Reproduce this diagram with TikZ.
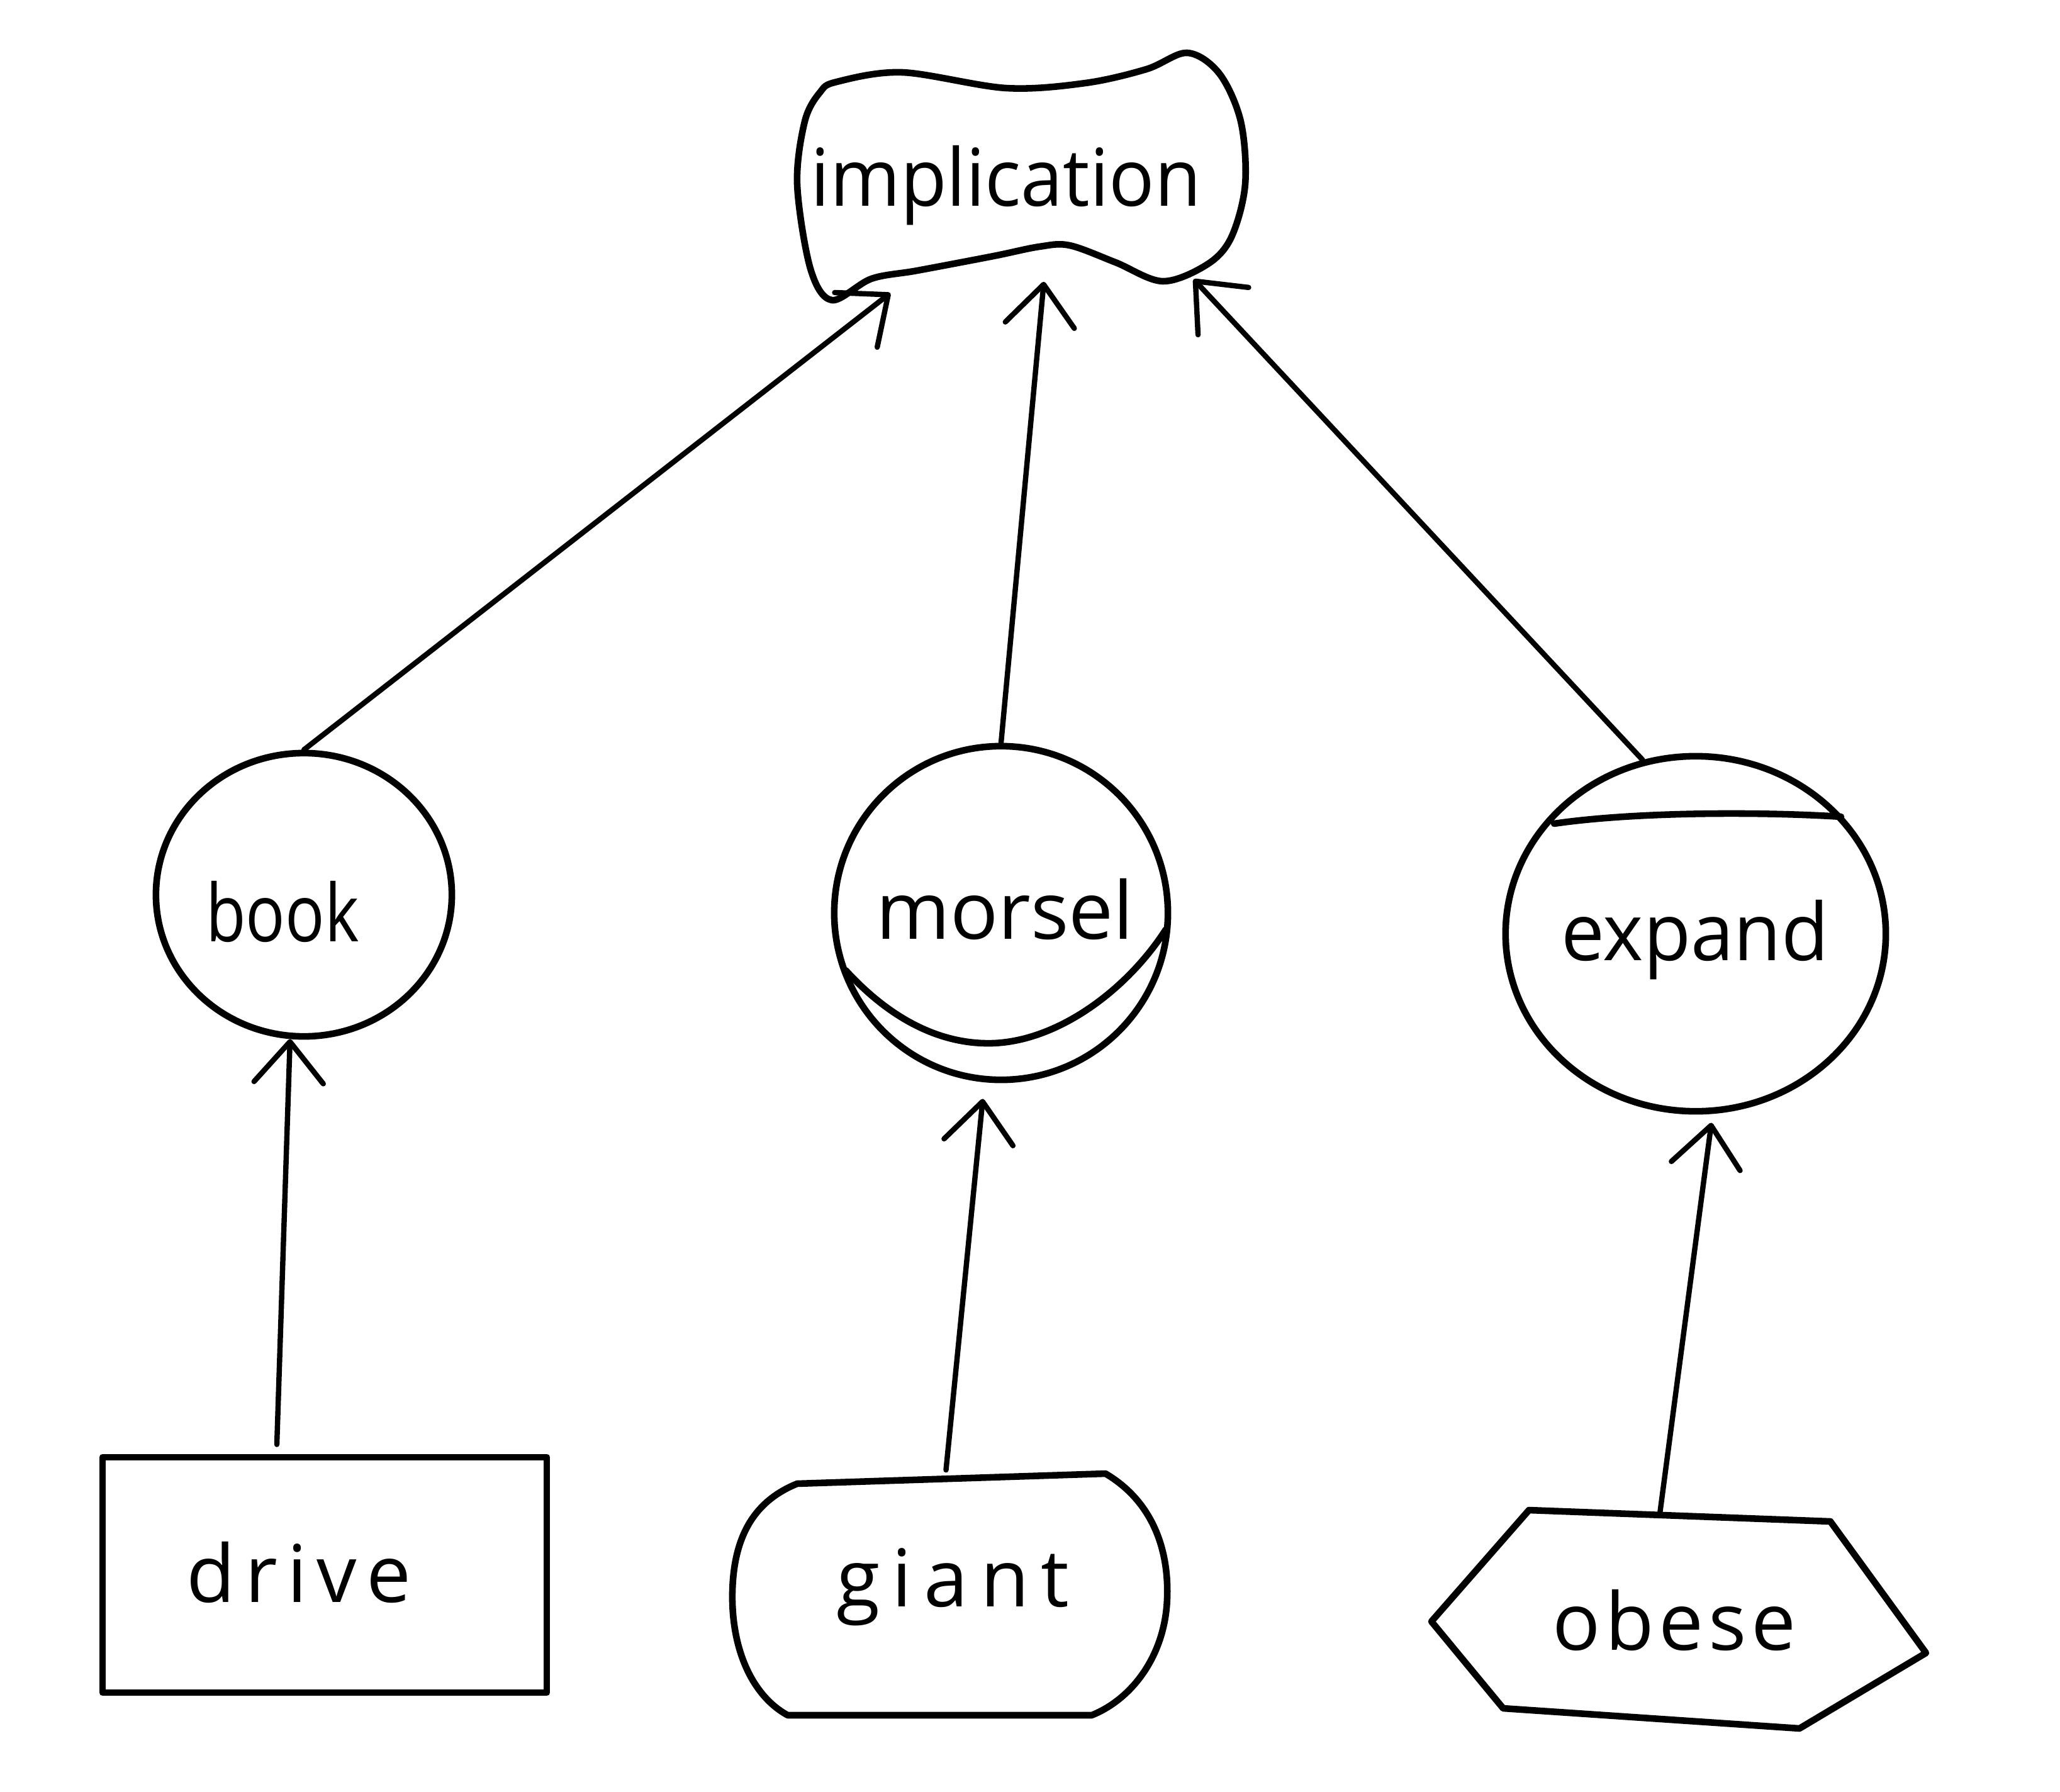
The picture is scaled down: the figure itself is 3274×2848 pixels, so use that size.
\documentclass[tikz,border=0pt]{standalone}
\usepackage{fontspec}
\usepackage{graphicx}
\setmainfont{Open Sans}
\usetikzlibrary{arrows.meta,shapes.geometric,calc}
\begin{document}
\begin{tikzpicture}[x=0.01cm,y=-0.01cm,
  shape line/.style={line width=3pt, line join=round, line cap=round},
  oval/.style={ellipse, draw, shape line, inner sep=0pt},
  frame/.style={draw=none, inner sep=0pt},
  word/.style={anchor=base, inner sep=0pt, font=\fontsize{36}{40}\selectfont},
  arr/.style={line width=2.4pt, line cap=round, line join=round,
    -{Straight Barb[length=6.5mm,width=11mm,round]}}]
\fill[white] (0,0) rectangle (3274,2848);
\useasboundingbox (0,0) rectangle (3274,2848);

% top node: wavy banner
\node[frame, minimum width=7.12cm, minimum height=3.89cm] (impl) at (1623,282.5) {};
\draw[shape line] plot[smooth cycle, tension=0.55] coordinates {
  (1330,130) (1434,115) (1599,140) (1725,132) (1822,110) (1887,84)
  (1938,117) (1972,193) (1979,293) (1957,377) (1919,420) (1848,447)
  (1773,417) (1700,390) (1652,392) (1579,407) (1458,430) (1385,443)
  (1322,477) (1288,427) (1267,293) (1279,193) (1303,147)};
\node[word] (t-impl) at ($(impl)+(-24,45)$) {\scalebox{0.95}[1]{implication}};

% middle row: circles
\node[oval, minimum width=4.7cm, minimum height=4.5cm] (book) at (483,1422) {};
\node[word] (t-book) at ($(book)+(-34,74)$) {\scalebox{0.82}[1]{book}};

\node[oval, minimum width=5.3cm, minimum height=5.3cm] (morsel) at (1591,1451) {};
\draw[shape line] (1344,1542) .. controls (1420,1625) and (1500,1660) .. (1577,1658)
  .. controls (1680,1655) and (1790,1575) .. (1853,1477);
\node[word] (t-morsel) at ($(morsel)+(6,41)$) {morsel};

\node[oval, minimum width=6.04cm, minimum height=5.64cm] (expand) at (2695,1484) {};
\draw[shape line] (2470,1309) .. controls (2600,1290) and (2800,1290) .. (2926,1298);
\node[word] (t-expand) at ($(expand)+(-1,42)$) {\scalebox{0.97}[1]{expand}};

% bottom row
\node[draw, shape line, inner sep=0pt, minimum width=7.06cm, minimum height=3.74cm] (drive) at (516,2503) {};
\node[word] (t-drive) at ($(drive)+(-41,43)$) {\addfontfeature{LetterSpace=12}drive};

\node[frame, minimum width=6.91cm, minimum height=3.81cm] (giant) at (1509.5,2535.5) {};
\draw[shape line] (1267,2358) -- (1757,2342)
  .. controls (1830,2385) and (1858,2460) .. (1855,2540)
  .. controls (1852,2630) and (1800,2700) .. (1735,2726)
  -- (1252,2726)
  .. controls (1195,2695) and (1162,2620) .. (1164,2530)
  .. controls (1166,2440) and (1200,2385) .. cycle;
\node[word] (t-giant) at ($(giant)+(5,18)$) {\addfontfeature{LetterSpace=15}giant};

\node[frame, minimum width=7.86cm, minimum height=3.47cm] (obese) at (2668,2574) {};
\draw[shape line] (2430,2400) -- (2909,2418) -- (3061,2627) -- (2860,2747)
  -- (2389,2715) -- (2275,2577) -- cycle;
\node[word] (t-obese) at ($(obese)+(-7,48)$) {\addfontfeature{LetterSpace=6}obese};

% connectors
\draw[arr] (book.north) -- ($(impl.south)+(-208,-12)$);
\draw[arr] (morsel.north) -- ($(impl.south)+(36,-30)$);
\draw[arr] (expand.107) -- ($(impl.south)+(274,-34)$);
\draw[arr] ($(drive.north)+(-76,-15)$) -- ($(book.south)+(-22,-1)$);
\draw[arr] ($(giant.north)+(-6,-8)$) -- ($(morsel.south)+(-29,25)$);
\draw[arr] ($(obese.north)+(-30,6)$) -- ($(expand.south)+(25,13)$);
\end{tikzpicture}
\end{document}
